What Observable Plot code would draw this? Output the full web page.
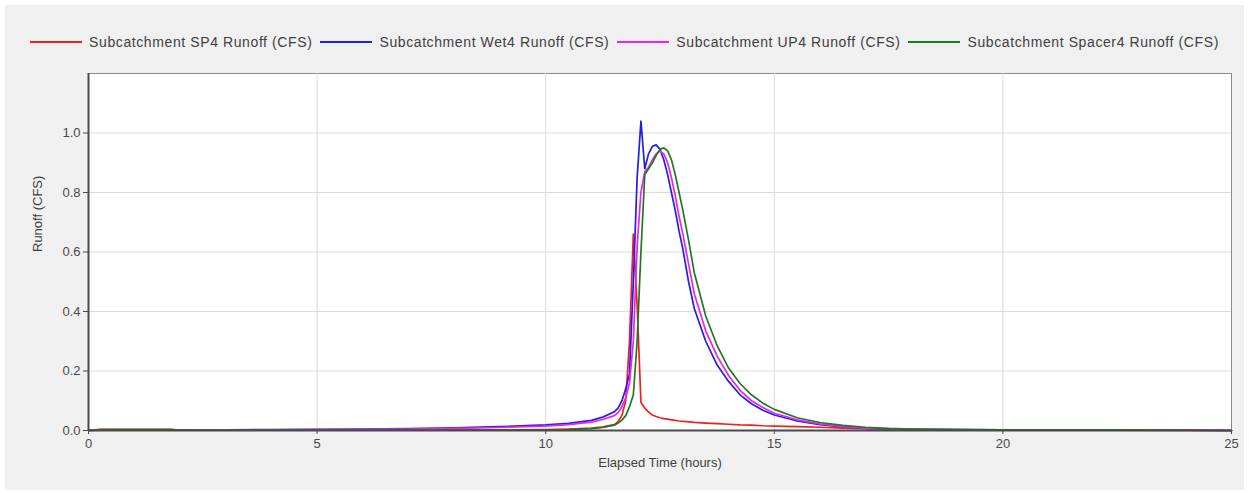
<!DOCTYPE html>
<html>
<head>
<meta charset="utf-8">
<script src="https://cdn.jsdelivr.net/npm/d3@7"></script>
<script src="https://cdn.jsdelivr.net/npm/@observablehq/plot@0.6"></script>
<style>
  html, body { margin: 0; padding: 0; background: #ffffff; }
  #wrap { position: absolute; left: 5px; top: 5px; width: 1239px; height: 485px; background: #f0f0f0; overflow: hidden; }
  #legend { position: absolute; left: 0; top: 29px; width: 100%; display: flex; justify-content: center; align-items: center;
            font-family: "Liberation Sans", Arial, sans-serif; font-size: 14px; letter-spacing: 0.6px; color: #404040; line-height: 16px; }
  .item { display: flex; align-items: center; margin: 0 4px; }
  .swatch { width: 52px; height: 2px; margin-right: 7px; }
  #chart { position: absolute; left: 0; top: 60px; }
</style>
</head>
<body>
<div id="wrap">
  <div id="legend"></div>
  <div id="chart"></div>
</div>
<script>
// Elapsed time (hours)
const hours = [0, 0.25, 1, 1.8, 2, 3, 4, 5, 6, 7, 8, 9, 10, 10.5, 11, 11.25, 11.5, 11.583, 11.667, 11.75, 11.833, 11.917,
  12, 12.083, 12.167, 12.25, 12.333, 12.417, 12.5, 12.583, 12.667, 12.75, 12.833, 12.917, 13, 13.125, 13.25, 13.5, 13.75,
  14, 14.25, 14.5, 14.75, 15, 15.5, 16, 16.5, 17, 17.5, 18, 19, 20, 22, 24, 25];

const seriesNames = [
  "Subcatchment SP4 Runoff (CFS)",
  "Subcatchment Wet4 Runoff (CFS)",
  "Subcatchment UP4 Runoff (CFS)",
  "Subcatchment Spacer4 Runoff (CFS)"
];
const seriesColors = ["#ee2020", "#2020e8", "#f020f0", "#1f7a1f"];

const sp4 = [0, 0.004, 0.004, 0.004, 0.001, 0.001, 0.001, 0.001, 0.001, 0.001, 0.002, 0.002, 0.003, 0.005, 0.008, 0.012, 0.02, 0.03, 0.05, 0.1, 0.3, 0.66,
  0.42, 0.095, 0.075, 0.062, 0.052, 0.047, 0.043, 0.04, 0.038, 0.036, 0.034, 0.032, 0.031, 0.029, 0.027, 0.025, 0.023,
  0.021, 0.019, 0.018, 0.016, 0.015, 0.013, 0.011, 0.008, 0.006, 0.004, 0.003, 0.002, 0.001, 0.001, 0, 0];

const wet4 = [0, 0.002, 0.002, 0.002, 0.002, 0.002, 0.003, 0.004, 0.005, 0.006, 0.009, 0.013, 0.019, 0.024, 0.034, 0.045, 0.063, 0.075, 0.1, 0.14, 0.19, 0.5,
  0.85, 1.04, 0.88, 0.93, 0.955, 0.96, 0.945, 0.91, 0.86, 0.8, 0.74, 0.67, 0.61, 0.5, 0.41, 0.3, 0.22,
  0.165, 0.12, 0.09, 0.068, 0.052, 0.032, 0.02, 0.012, 0.007, 0.005, 0.004, 0.003, 0.002, 0.002, 0.001, 0];

const up4 = [0, 0.001, 0.001, 0.001, 0.001, 0.002, 0.002, 0.003, 0.004, 0.005, 0.007, 0.01, 0.015, 0.02, 0.028, 0.037, 0.05, 0.06, 0.08, 0.11, 0.16, 0.3,
  0.62, 0.8, 0.87, 0.885, 0.91, 0.93, 0.94, 0.93, 0.9, 0.85, 0.79, 0.72, 0.66, 0.56, 0.46, 0.335, 0.25,
  0.185, 0.135, 0.1, 0.077, 0.058, 0.036, 0.022, 0.013, 0.008, 0.005, 0.004, 0.003, 0.002, 0.002, 0.001, 0];

const spacer4 = [0, 0.003, 0.003, 0.003, 0.001, 0.001, 0.001, 0.001, 0.001, 0.001, 0.001, 0.001, 0.002, 0.003, 0.006, 0.01, 0.018, 0.025, 0.035, 0.05, 0.08, 0.12,
  0.3, 0.6, 0.86, 0.88, 0.9, 0.925, 0.945, 0.95, 0.94, 0.91, 0.86, 0.8, 0.74, 0.64, 0.53, 0.385, 0.285,
  0.21, 0.158, 0.12, 0.092, 0.071, 0.043, 0.027, 0.017, 0.011, 0.007, 0.005, 0.003, 0.002, 0.002, 0.001, 0];

const xTicks = [0, 5, 10, 15, 20, 25];
const yTicks = [0, 0.2, 0.4, 0.6, 0.8, 1.0];

const allValues = [sp4, wet4, up4, spacer4];
const rows = [];
allValues.forEach((vals, si) => {
  vals.forEach((v, i) => rows.push({ series: seriesNames[si], t: hours[i], v }));
});

// Legend
const legend = document.getElementById("legend");
seriesNames.forEach((name, i) => {
  const item = document.createElement("div");
  item.className = "item";
  const sw = document.createElement("span");
  sw.className = "swatch";
  sw.style.background = seriesColors[i];
  const tx = document.createElement("span");
  tx.textContent = name;
  item.appendChild(sw);
  item.appendChild(tx);
  legend.appendChild(item);
});

const chart = Plot.plot({
  width: 1239,
  height: 425,
  marginLeft: 83,
  marginRight: 13,
  marginTop: 8,
  marginBottom: 60,
  style: { fontFamily: "'Liberation Sans', Arial, sans-serif", fontSize: "13px", color: "#4a4a4a", background: "transparent" },
  x: { domain: [0, 25], label: null },
  y: { domain: [0, 1.2], label: null },
  color: { domain: seriesNames, range: seriesColors },
  marks: [
    Plot.frame({ fill: "white", stroke: "#8a8a8a", strokeWidth: 1 }),
    Plot.gridX(xTicks.slice(1, -1), { stroke: "#dcdcdc", strokeOpacity: 1 }),
    Plot.gridY(yTicks.slice(1), { stroke: "#dcdcdc", strokeOpacity: 1 }),
    Plot.line(rows, { x: "t", y: "v", z: "series", stroke: "series", strokeWidth: 1.7, curve: "linear" }),
    Plot.ruleY([0], { stroke: "#4a4a4a", strokeWidth: 2 }),
    Plot.ruleX([0], { stroke: "#4a4a4a", strokeWidth: 2 }),
    Plot.axisX(xTicks, { tickSize: 4, tickPadding: 4, tickFormat: d => String(d), stroke: "#4a4a4a" }),
    Plot.axisY(yTicks, { tickSize: 5, tickPadding: 3, tickFormat: d3.format(".1f"), stroke: "#4a4a4a" }),
    Plot.text(["Elapsed Time (hours)"], { frameAnchor: "bottom", dy: 36, fontSize: 13, fill: "#404040" }),
    Plot.text(["Runoff (CFS)"], { frameAnchor: "left", dx: -51, rotate: -90, fontSize: 13, fill: "#404040" })
  ]
});
document.getElementById("chart").appendChild(chart);
</script>
</body>
</html>
